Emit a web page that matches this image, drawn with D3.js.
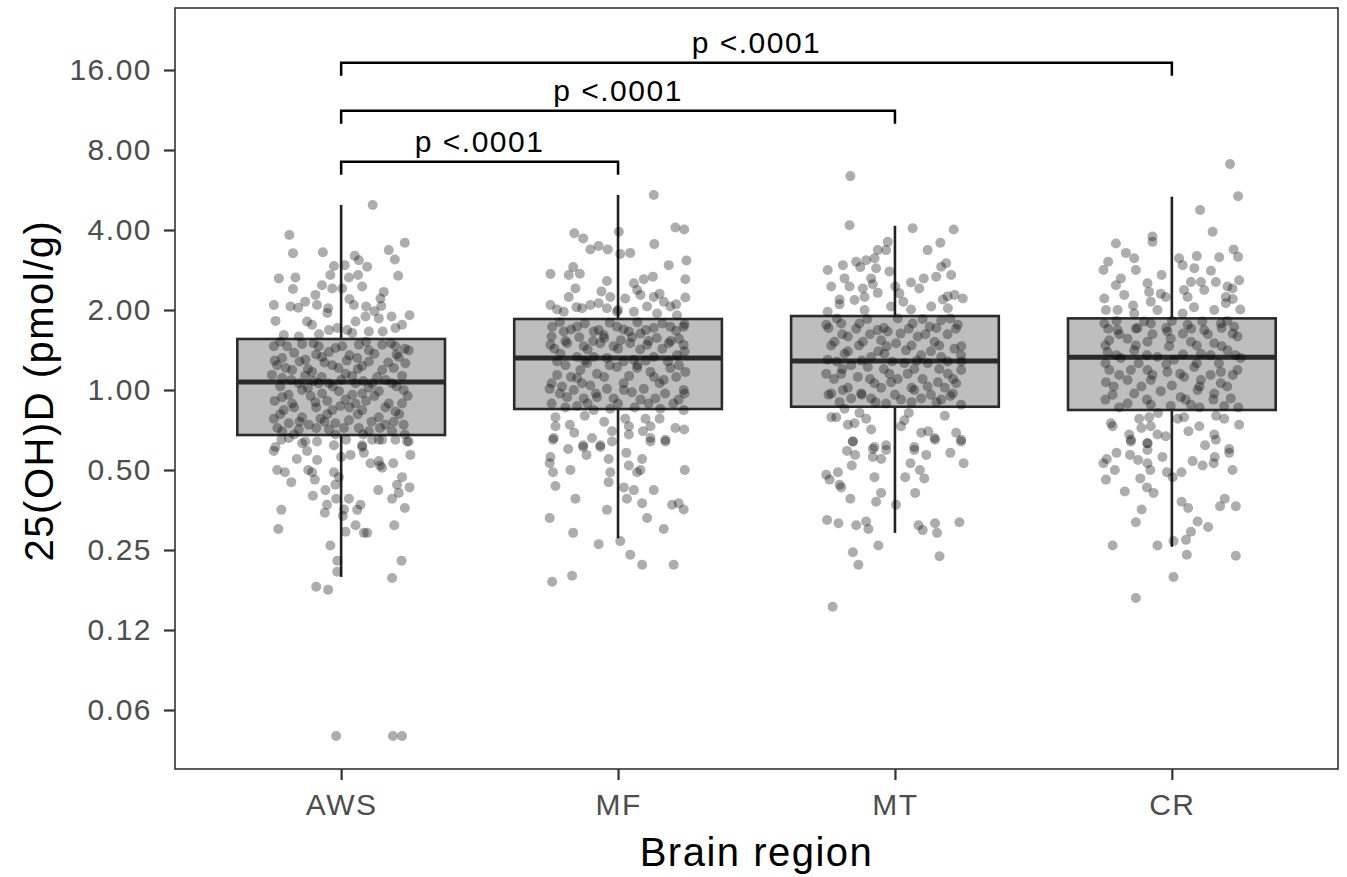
<!DOCTYPE html>
<html>
<head>
<meta charset="utf-8">
<script src="https://cdn.jsdelivr.net/npm/d3@7"></script>
<style>
  html, body { margin: 0; padding: 0; background: #fff; }
  svg { display: block; font-family: "Liberation Sans", Arial, Helvetica, sans-serif; }
</style>
</head>
<body>
<svg id="chart" width="1347" height="877"></svg>
<script>
// ---------------- DATA ----------------
const categories = ["AWS", "MF", "MT", "CR"];

// Each point: [25(OH)D value in pmol/g, horizontal jitter in category units]
const awsPoints = [
[4.97,0.114],[3.83,-0.187],[3.27,-0.174],[3.30,-0.066],[3.58,0.230],[3.36,0.172],[3.10,0.194],[2.63,-0.225],[2.65,-0.165],[2.40,-0.174],
[2.69,0.206],[3.20,0.049],[3.08,0.064],[2.91,0.094],[2.93,-0.026],[2.95,0.013],[2.71,-0.039],[2.65,0.028],[2.71,0.061],[2.48,-0.069],
[2.41,-0.032],[2.41,0.004],[2.45,0.076],[2.34,0.154],[2.21,0.142],[2.28,-0.093],[2.09,-0.243],[1.82,-0.237],[2.06,-0.183],[2.04,-0.155],
[2.09,-0.087],[2.03,-0.047],[2.09,0.046],[2.06,0.090],[2.07,0.145],[1.89,0.182],[1.91,0.247],[1.81,-0.123],[1.76,-0.105],[1.81,0.052],
[1.89,0.088],[1.86,0.136],[1.76,0.220],[1.68,-0.044],[1.71,-0.014],[1.68,0.022],[1.66,0.100],[1.71,0.196],[1.61,-0.207],[1.59,-0.153],
[1.46,-0.243],[1.46,-0.195],[1.49,-0.141],[1.46,-0.081],[1.39,-0.044],[1.46,0.004],[1.48,0.064],[1.41,0.100],[1.48,0.148],[1.46,0.196],
[1.41,0.244],[1.32,-0.213],[1.19,-0.177],[1.24,-0.231],[1.30,-0.129],[1.33,-0.069],[1.24,-0.032],[1.32,0.058],[1.23,0.076],[1.19,0.148],
[1.33,0.208],[1.26,0.232],[1.17,-0.105],[1.15,0.016],[1.11,-0.213],[1.06,-0.153],[1.06,-0.081],[1.06,-0.044],[1.06,0.052],[1.06,0.112],
[1.06,0.184],[1.00,0.226],[1.00,-0.141],[0.97,-0.069],[0.99,-0.008],[0.97,0.076],[0.99,0.136],[0.94,-0.213],[0.89,-0.177],[0.90,-0.093],
[0.92,0.016],[0.89,0.052],[0.89,0.172],[0.89,0.220],[0.84,-0.207],[0.79,-0.141],[0.84,-0.032],[0.87,-0.003],[0.84,0.076],[0.79,0.136],
[0.83,0.196],[0.78,-0.243],[0.78,-0.075],[0.75,-0.189],[0.74,-0.117],[0.75,-0.021],[0.77,0.028],[0.72,0.064],[0.74,0.160],[0.74,0.226],
[0.70,-0.213],[0.71,-0.153],[0.70,0.100],[0.70,0.184],[0.71,-0.044],[0.61,-0.237],[0.64,-0.129],[0.61,0.076],[0.65,0.136],[0.64,0.244],
[0.66,-0.189],[0.65,-0.216],[0.59,-0.243],[0.63,-0.141],[0.59,-0.123],[0.64,-0.087],[0.62,-0.026],[0.65,0.018],[0.57,0.034],[0.62,0.076],
[0.58,0.082],[0.65,0.112],[0.65,0.148],[0.65,0.196],[0.64,0.238],[0.57,0.250],[0.50,-0.231],[0.49,-0.203],[0.50,-0.119],[0.49,-0.105],
[0.545,-0.087],[0.46,-0.095],[0.49,-0.026],[0.47,-0.008],[0.44,-0.021],[0.53,0.106],[0.54,0.136],[0.51,0.148],[0.53,0.188],[0.42,0.134],
[0.44,0.202],[0.39,0.184],[0.41,0.208],[0.43,0.247],[0.36,0.230],[0.40,-0.102],[0.42,-0.057],[0.39,-0.018],[0.39,0.028],[0.37,-0.051],
[0.345,-0.059],[0.355,0.010],[0.336,0.006],[0.354,0.058],[0.37,0.070],[0.354,-0.216],[0.30,-0.227],[0.31,0.052],[0.293,0.016],[0.29,0.082],
[0.29,0.094],[0.31,0.192],[0.26,-0.039],[0.228,-0.014],[0.207,-0.014],[0.228,0.218],[0.196,0.184],[0.182,-0.090],[0.177,-0.047],
[0.0499,-0.018],[0.0499,0.187],[0.0499,0.220],
[1.52,-0.22],[1.50,-0.10],[1.44,-0.02],[1.52,0.09],[1.50,0.18],[1.43,0.23],[1.38,-0.17],[1.36,-0.09],[1.35,0.03],[1.37,0.12],
[1.36,0.20],[1.29,-0.24],[1.28,-0.15],[1.27,-0.06],[1.29,0.02],[1.28,0.10],[1.27,0.17],[1.21,-0.20],[1.20,-0.12],[1.21,-0.01],
[1.20,0.06],[1.21,0.19],[1.14,-0.25],[1.13,-0.13],[1.12,-0.07],[1.13,0.04],[1.12,0.13],[1.13,0.22],[1.09,-0.18],[1.08,-0.10],
[1.09,0.00],[1.08,0.08],[1.09,0.16],[1.03,-0.22],[1.02,-0.12],[1.03,-0.03],[1.02,0.10],[1.03,0.20],[0.96,-0.19],[0.95,-0.11],
[0.96,0.04],[0.95,0.12],[0.95,0.24],[0.91,-0.24],[0.91,-0.05],[0.91,0.09],[0.86,-0.17],[0.86,-0.09],[0.86,0.03],[0.86,0.16],
[0.81,-0.22],[0.81,-0.05],[0.81,0.06],[0.81,0.21],[0.76,-0.15],[0.76,-0.06],[0.76,0.11],[0.76,0.19],[0.72,-0.23],[0.72,-0.09],
[0.72,0.01],[0.72,0.14],[0.68,-0.17],[0.68,-0.02],[0.68,0.08],[0.68,0.23],[1.62,-0.08],[1.64,0.04],[1.66,0.15],[1.95,-0.05],
[1.98,0.12],[2.15,-0.13],[2.20,0.03],[0.55,-0.16],[0.56,0.00],[0.52,0.14],[0.47,0.22],[0.45,-0.18]
];

const mfPoints = [
[5.42,0.129],[3.89,-0.158],[3.72,-0.126],[3.94,0.003],[4.09,0.207],[4.02,0.239],[3.54,0.131],[3.38,-0.100],[3.48,-0.070],[3.38,-0.037],
[3.25,0.008],[3.28,0.044],[3.07,0.247],[2.95,0.183],[2.73,-0.244],[2.71,-0.178],[2.90,-0.162],[2.74,-0.138],[2.61,0.243],[2.61,0.093],
[2.67,0.126],[2.41,-0.154],[2.57,-0.040],[2.52,0.057],[2.38,0.069],[2.24,-0.178],[2.23,0.243],[2.09,-0.244],[2.01,-0.220],[2.03,-0.130],
[2.09,-0.100],[2.12,-0.070],[2.24,-0.028],[2.21,0.026],[2.28,0.081],[2.24,0.129],[2.15,0.165],[2.06,0.189],[2.03,-0.040],[2.06,0.105],
[1.97,-0.196],[1.97,-0.004],[1.97,0.057],[1.94,0.141],[1.91,0.213],[1.73,-0.238],[1.66,-0.196],[1.73,-0.148],[1.66,-0.088],[1.61,-0.052],
[1.73,-0.004],[1.66,0.039],[1.63,0.081],[1.71,0.129],[1.73,0.189],[1.73,0.237],[1.48,-0.244],[1.50,-0.184],[1.46,-0.124],[1.50,-0.064],
[1.46,-0.016],[1.50,0.044],[1.48,0.105],[1.50,0.183],[1.48,0.237],[1.37,-0.208],[1.33,-0.148],[1.33,-0.088],[1.32,-0.040],[1.30,0.057],
[1.33,0.129],[1.35,0.213],[1.19,-0.136],[1.26,-0.112],[1.15,-0.076],[1.22,-0.004],[1.21,0.069],[1.17,0.117],[1.21,0.189],[1.17,0.243],
[1.14,-0.220],[1.11,-0.148],[1.09,0.165],[1.01,-0.247],[1.03,-0.202],[1.00,-0.160],[1.04,-0.100],[1.01,-0.040],[1.00,0.021],[1.01,0.093],
[1.00,0.237],[0.94,-0.184],[0.93,-0.124],[0.94,-0.076],[0.93,-0.016],[0.92,0.081],[0.93,0.135],[0.92,0.219],[0.87,-0.148],[0.84,-0.088],
[0.85,-0.028],[0.85,0.153],[0.84,0.237],[0.79,-0.226],[0.73,-0.226],[0.74,-0.174],[0.69,-0.158],[0.66,-0.232],[0.66,-0.094],[0.62,-0.126],
[0.62,-0.064],[0.70,-0.022],[0.78,0.026],[0.73,0.039],[0.68,0.039],[0.78,0.099],[0.73,0.117],[0.66,0.117],[0.65,0.171],[0.72,0.207],
[0.71,0.239],[0.61,-0.126],[0.61,-0.064],[0.57,-0.114],[0.65,-0.235],[0.64,-0.022],[0.64,0.117],[0.64,0.171],[0.56,-0.244],[0.53,-0.247],
[0.50,-0.172],[0.49,-0.235],[0.435,-0.226],[0.55,-0.034],[0.49,-0.028],[0.45,-0.034],[0.52,0.039],[0.55,0.087],[0.49,0.069],[0.50,0.081],
[0.50,0.241],[0.43,0.021],[0.42,0.057],[0.39,0.032],[0.42,0.129],[0.375,0.087],[0.39,-0.154],[0.37,0.195],[0.375,0.219],[0.355,0.237],
[0.354,-0.040],[0.33,0.105],[0.33,-0.247],[0.30,0.165],[0.29,-0.162],[0.27,0.008],[0.263,-0.070],[0.24,0.044],[0.22,0.087],[0.22,0.201],
[0.20,-0.166],[0.19,-0.238],
[1.80,-0.21],[1.78,-0.12],[1.79,-0.03],[1.80,0.07],[1.78,0.16],[1.77,0.24],[1.69,-0.17],[1.68,-0.07],[1.69,0.02],[1.68,0.10],
[1.67,0.21],[1.59,-0.24],[1.58,-0.14],[1.57,-0.05],[1.58,0.05],[1.57,0.14],[1.56,0.22],[1.53,-0.19],[1.53,-0.09],[1.54,0.01],
[1.53,0.11],[1.53,0.19],[1.43,-0.23],[1.42,-0.11],[1.43,0.00],[1.42,0.08],[1.43,0.16],[1.40,0.24],[1.28,-0.22],[1.29,-0.12],
[1.28,0.02],[1.29,0.10],[1.28,0.18],[1.24,-0.19],[1.24,-0.03],[1.24,0.07],[1.24,0.22],[1.12,-0.17],[1.12,-0.05],[1.13,0.04],
[1.12,0.13],[1.12,0.21],[1.06,-0.24],[1.06,-0.13],[1.06,0.02],[1.06,0.15],[0.97,-0.21],[0.97,-0.08],[0.98,0.05],[0.97,0.17],
[0.97,0.24],[0.89,-0.24],[0.89,-0.11],[0.89,0.00],[0.89,0.11],[0.89,0.20],[0.86,-0.19],[0.86,0.06],[2.05,-0.15],[2.00,0.00],
[2.10,0.21],[2.35,-0.06],[2.30,0.15],[0.80,-0.12],[0.78,0.15],[0.76,-0.05],[0.70,0.09],[0.60,-0.18],[0.58,0.03]
];

const mtPoints = [
[6.38,-0.161],[4.17,-0.164],[4.06,0.064],[4.02,0.212],[3.61,-0.026],[3.58,0.164],[3.36,0.118],[3.36,-0.062],[3.36,-0.032],[3.13,-0.074],
[2.83,-0.243],[2.95,-0.188],[3.04,-0.140],[3.08,-0.104],[2.90,-0.125],[2.87,-0.068],[2.79,-0.020],[3.00,0.185],[2.91,0.167],[2.71,0.203],
[2.63,0.104],[2.67,0.149],[2.54,0.058],[2.45,-0.230],[2.63,-0.182],[2.63,-0.086],[2.45,-0.164],[2.41,-0.116],[2.45,0.001],[2.41,0.088],
[2.19,-0.200],[2.18,-0.146],[2.24,-0.110],[2.32,-0.062],[2.31,0.016],[2.01,0.058],[2.06,0.131],[2.19,0.173],[2.28,0.215],[2.21,0.245],
[2.03,0.191],[2.06,-0.014],[1.97,-0.243],[2.00,-0.110],[1.76,-0.248],[1.78,-0.194],[1.78,-0.128],[1.68,-0.062],[1.66,-0.026],[1.78,0.064],
[1.73,0.125],[1.83,0.167],[1.76,0.227],[1.52,-0.218],[1.59,-0.170],[1.52,-0.116],[1.54,-0.050],[1.50,0.004],[1.59,0.082],[1.52,0.143],
[1.43,0.215],[1.35,0.239],[1.30,-0.243],[1.37,-0.182],[1.33,-0.086],[1.37,-0.038],[1.35,0.095],[1.33,0.167],[1.24,-0.158],[1.22,-0.098],
[1.26,0.034],[1.26,0.118],[1.15,-0.248],[1.15,-0.194],[1.12,-0.134],[1.15,-0.020],[1.15,0.046],[1.15,0.191],[1.19,0.239],[1.06,-0.074],
[1.07,-0.014],[1.03,0.118],[1.07,0.155],[1.06,0.221],[1.00,-0.188],[0.97,-0.230],[0.97,-0.122],[1.00,0.070],[0.97,0.209],[0.93,-0.158],
[0.93,-0.086],[0.92,0.022],[0.93,0.095],[0.92,0.167],[0.88,0.239],[0.89,-0.032],[0.79,-0.230],[0.79,-0.212],[0.85,-0.182],[0.75,-0.146],
[0.82,-0.128],[0.78,-0.104],[0.71,-0.086],[0.64,-0.152],[0.61,-0.074],[0.62,-0.032],[0.77,0.034],[0.73,0.022],[0.69,0.095],[0.66,0.143],
[0.69,0.221],[0.65,0.239],[0.61,0.070],[0.64,-0.152],[0.59,-0.173],[0.57,-0.144],[0.52,-0.156],[0.60,-0.080],[0.56,-0.080],[0.595,-0.032],
[0.595,0.070],[0.57,0.113],[0.65,0.145],[0.64,0.239],[0.53,0.248],[0.53,0.056],[0.48,-0.248],[0.46,-0.236],[0.49,-0.206],[0.44,-0.200],
[0.43,-0.194],[0.47,-0.074],[0.47,0.037],[0.465,0.106],[0.39,-0.161],[0.41,-0.050],[0.38,-0.068],[0.41,0.073],[0.37,0.004],[0.324,-0.245],
[0.315,-0.204],[0.31,-0.140],[0.32,-0.104],[0.30,-0.096],[0.31,0.085],[0.297,0.100],[0.315,0.145],[0.29,0.152],[0.318,0.233],[0.26,-0.060],
[0.245,-0.152],[0.22,-0.132],[0.237,0.161],[0.153,-0.225],
[1.86,-0.21],[1.85,-0.10],[1.86,0.01],[1.85,0.10],[1.86,0.20],[1.71,-0.24],[1.70,-0.14],[1.71,-0.04],[1.70,0.05],[1.71,0.15],
[1.70,0.22],[1.62,-0.19],[1.62,-0.09],[1.63,0.02],[1.62,0.11],[1.62,0.19],[1.47,-0.23],[1.47,-0.13],[1.46,-0.03],[1.47,0.06],
[1.47,0.16],[1.46,0.24],[1.40,-0.17],[1.40,-0.06],[1.41,0.04],[1.40,0.13],[1.28,-0.21],[1.29,-0.12],[1.28,-0.01],[1.29,0.08],
[1.28,0.19],[1.28,0.24],[1.20,-0.19],[1.20,-0.04],[1.20,0.07],[1.20,0.16],[1.10,-0.22],[1.10,-0.09],[1.10,0.01],[1.10,0.10],
[1.10,0.21],[1.02,-0.17],[1.02,-0.05],[1.02,0.06],[1.02,0.18],[0.96,-0.24],[0.96,-0.12],[0.96,0.00],[0.96,0.13],[0.95,0.20],
[0.90,-0.20],[0.90,-0.07],[0.90,0.06],[0.90,0.15],[2.10,-0.20],[2.15,0.03],[2.25,0.19],[2.50,-0.08],[0.82,0.05],[0.80,0.18],
[0.74,-0.17],[0.70,0.12],[0.58,0.20],[0.55,-0.05],[0.50,0.09]
];

const crPoints = [
[7.08,0.210],[5.36,0.239],[4.76,0.102],[3.94,0.147],[3.78,-0.070],[3.61,-0.070],[3.56,-0.202],[3.28,-0.166],[3.13,-0.136],[3.04,-0.230],
[2.83,-0.247],[2.83,-0.130],[3.13,0.026],[2.95,0.039],[3.19,0.090],[3.16,0.171],[3.38,0.223],[3.17,0.239],[2.87,0.081],[2.81,0.141],
[2.71,-0.037],[2.63,-0.184],[2.48,-0.202],[2.59,0.243],[2.52,-0.088],[2.55,0.069],[2.55,0.105],[2.55,0.159],[2.45,0.201],[2.24,-0.022],
[2.21,-0.244],[2.28,-0.172],[2.34,-0.082],[2.15,-0.076],[2.38,0.044],[2.24,0.057],[2.38,0.117],[2.24,0.195],[2.41,0.219],[2.00,-0.238],
[2.00,-0.196],[1.94,-0.136],[2.00,-0.052],[1.94,0.039],[2.00,0.153],[2.01,0.247],[2.12,0.195],[1.78,-0.244],[1.68,-0.196],[1.71,-0.124],
[1.78,-0.076],[1.66,-0.016],[1.76,0.057],[1.68,0.117],[1.78,0.177],[1.73,0.225],[1.54,-0.226],[1.56,-0.160],[1.52,-0.088],[1.56,-0.004],
[1.52,0.069],[1.50,0.153],[1.59,0.237],[1.39,-0.232],[1.41,-0.136],[1.33,-0.052],[1.37,0.105],[1.41,0.201],[1.32,-0.184],[1.30,0.008],
[1.32,0.249],[1.19,-0.226],[1.19,-0.148],[1.19,-0.088],[1.17,-0.016],[1.22,0.081],[1.17,0.177],[1.19,0.237],[1.07,-0.238],[1.09,-0.160],
[1.09,-0.076],[1.12,0.044],[1.09,0.105],[1.06,0.177],[0.96,-0.214],[0.97,-0.136],[0.99,-0.040],[0.94,0.032],[1.00,0.093],[0.97,0.153],
[0.93,0.213],[0.89,-0.160],[0.88,-0.076],[0.87,-0.004],[0.88,0.069],[0.87,0.189],[0.75,-0.220],[0.73,-0.214],[0.78,-0.118],[0.79,-0.082],
[0.73,-0.076],[0.68,-0.154],[0.65,-0.148],[0.63,-0.088],[0.68,-0.052],[0.67,-0.022],[0.78,0.021],[0.79,0.044],[0.73,0.099],[0.68,0.153],
[0.78,0.189],[0.74,0.243],[0.60,0.207],[0.64,-0.148],[0.63,-0.088],[0.595,-0.088],[0.55,-0.235],[0.53,-0.247],[0.50,-0.206],[0.57,-0.151],
[0.545,-0.122],[0.53,-0.088],[0.50,-0.078],[0.56,-0.034],[0.49,-0.018],[0.47,0.003],[0.46,-0.238],[0.465,-0.114],[0.43,-0.090],[0.41,-0.066],
[0.415,-0.170],[0.49,0.035],[0.54,0.075],[0.52,0.111],[0.53,0.151],[0.56,0.155],[0.58,0.207],[0.50,0.219],[0.65,0.159],[0.38,0.035],
[0.36,0.059],[0.39,0.191],[0.365,0.174],[0.365,0.231],[0.355,-0.109],[0.318,-0.130],[0.32,0.093],[0.305,0.131],[0.293,0.069],[0.273,0.051],
[0.27,0.006],[0.26,-0.214],[0.26,-0.052],[0.24,0.054],[0.238,0.231],[0.198,0.006],[0.165,-0.130],
[1.82,-0.20],[1.81,-0.10],[1.82,0.00],[1.81,0.11],[1.82,0.20],[1.70,-0.23],[1.70,-0.13],[1.71,-0.02],[1.70,0.07],[1.71,0.18],
[1.62,-0.19],[1.62,-0.07],[1.63,0.04],[1.62,0.13],[1.63,0.22],[1.47,-0.24],[1.47,-0.13],[1.46,-0.01],[1.47,0.09],[1.46,0.18],
[1.35,-0.20],[1.35,-0.09],[1.36,0.04],[1.35,0.14],[1.35,0.23],[1.26,-0.24],[1.26,-0.12],[1.25,-0.02],[1.26,0.09],[1.26,0.17],
[1.14,-0.19],[1.14,-0.07],[1.15,0.03],[1.14,0.14],[1.14,0.22],[1.03,-0.21],[1.03,-0.11],[1.04,0.00],[1.03,0.10],[1.03,0.20],
[0.92,-0.24],[0.92,-0.09],[0.92,0.05],[0.92,0.15],[0.86,-0.19],[0.86,0.10],[0.86,0.24],[2.08,-0.14],[2.05,0.08],[2.30,-0.04],
[2.20,0.22],[0.82,-0.05],[0.80,0.16],[0.72,-0.11],[0.70,0.06],[0.62,0.12],[0.58,-0.20]
];

const groupPoints = [awsPoints, mfPoints, mtPoints, crPoints];

// Box-plot statistics per category (pmol/g)
const whiskerLow  = [0.198, 0.277, 0.290, 0.257];
const quartile1   = [0.677, 0.848, 0.865, 0.841];
const medians     = [1.072, 1.320, 1.286, 1.327];
const quartile3   = [1.556, 1.850, 1.898, 1.860];
const whiskerHigh = [4.97, 5.42, 4.15, 5.34];

// Y-axis ticks
const yTickValues = [16, 8, 4, 2, 1, 0.5, 0.25, 0.125, 0.0625];
const yTickLabels = ["16.00", "8.00", "4.00", "2.00", "1.00", "0.50", "0.25", "0.12", "0.06"];

// Significance comparisons
const compFrom   = ["AWS", "AWS", "AWS"];
const compTo     = ["MF", "MT", "CR"];
const compY      = [7.23, 11.25, 17.04];
const compLabels = ["p <.0001", "p <.0001", "p <.0001"];

// ---------------- DRAW ----------------
const W = 1347, H = 877;
const panel = { left: 175, right: 1338, top: 8, bottom: 769 };
const svg = d3.select("#chart");
svg.append("rect").attr("width", W).attr("height", H).attr("fill", "#fff");

const x = d3.scaleLinear().domain([-0.6, categories.length - 0.4]).range([panel.left, panel.right]);
const y = d3.scaleLog().base(2).domain([Math.pow(2, -4.7375), Math.pow(2, 4.775)]).range([panel.bottom, panel.top]);

const boxHalf = 0.375;
const g = svg.append("g");

// Boxes
categories.forEach((c, i) => {
  const bx = g.append("g");
  bx.append("line").attr("x1", x(i)).attr("x2", x(i))
    .attr("y1", y(quartile3[i])).attr("y2", y(whiskerHigh[i]))
    .attr("stroke", "#222").attr("stroke-width", 2.6);
  bx.append("line").attr("x1", x(i)).attr("x2", x(i))
    .attr("y1", y(quartile1[i])).attr("y2", y(whiskerLow[i]))
    .attr("stroke", "#222").attr("stroke-width", 2.6);
  bx.append("rect").attr("x", x(i - boxHalf)).attr("width", x(i + boxHalf) - x(i - boxHalf))
    .attr("y", y(quartile3[i])).attr("height", y(quartile1[i]) - y(quartile3[i]))
    .attr("fill", "#bebebe").attr("stroke", "#2a2a2a").attr("stroke-width", 2.6);
  bx.append("line").attr("x1", x(i - boxHalf)).attr("x2", x(i + boxHalf))
    .attr("y1", y(medians[i])).attr("y2", y(medians[i]))
    .attr("stroke", "#2a2a2a").attr("stroke-width", 5);
});

// Points
groupPoints.forEach((pts, i) => {
  g.append("g").selectAll("circle").data(pts).join("circle")
    .attr("cx", d => x(i + d[1]))
    .attr("cy", d => y(d[0]))
    .attr("r", 5)
    .attr("fill", "#000")
    .attr("fill-opacity", 0.32);
});

// Panel border
svg.append("rect").attr("x", panel.left).attr("y", panel.top)
  .attr("width", panel.right - panel.left).attr("height", panel.bottom - panel.top)
  .attr("fill", "none").attr("stroke", "#333").attr("stroke-width", 1.6);

// Y axis
const yAxis = svg.append("g").attr("transform", `translate(${panel.left},0)`)
  .call(d3.axisLeft(y).tickValues(yTickValues).tickFormat((d, i) => yTickLabels[i]).tickSize(11).tickPadding(12));
yAxis.select(".domain").remove();
yAxis.selectAll(".tick line").attr("stroke", "#333").attr("stroke-width", 2.2);
yAxis.selectAll(".tick text").attr("fill", "#4d4d4d").style("font-size", "30px").style("letter-spacing", "1.5px");

// X axis
const xAxis = svg.append("g").attr("transform", `translate(0,${panel.bottom})`)
  .call(d3.axisBottom(x).tickValues(d3.range(categories.length)).tickFormat(i => categories[i]).tickSize(11).tickPadding(13.5));
xAxis.select(".domain").remove();
xAxis.selectAll(".tick line").attr("stroke", "#333").attr("stroke-width", 2.2);
xAxis.selectAll(".tick text").attr("fill", "#4d4d4d").style("font-size", "30px").style("letter-spacing", "1.5px");
svg.selectAll("g").attr("font-family", null);

// Axis titles
svg.append("text").attr("x", (panel.left + panel.right) / 2).attr("y", 866)
  .attr("text-anchor", "middle").style("font-size", "40px").style("letter-spacing", "1.5px")
  .attr("fill", "#000").text("Brain region");
svg.append("text").attr("transform", `translate(53,${(panel.top + panel.bottom) / 2 + 2}) rotate(-90)`)
  .attr("text-anchor", "middle").style("font-size", "40px").style("letter-spacing", "1.5px")
  .attr("fill", "#000").text("25(OH)D (pmol/g)");

// Significance brackets
const tip = 13;
compFrom.forEach((f, k) => {
  const x1 = x(categories.indexOf(f)), x2 = x(categories.indexOf(compTo[k]));
  const yy = y(compY[k]);
  svg.append("path")
    .attr("d", `M${x1},${yy + tip}V${yy}H${x2}V${yy + tip}`)
    .attr("fill", "none").attr("stroke", "#000").attr("stroke-width", 2.5);
  svg.append("text").attr("x", (x1 + x2) / 2).attr("y", yy - 9.5)
    .attr("text-anchor", "middle").style("font-size", "30px").style("letter-spacing", "1.5px")
    .attr("fill", "#000").text(compLabels[k]);
});
</script>
</body>
</html>
